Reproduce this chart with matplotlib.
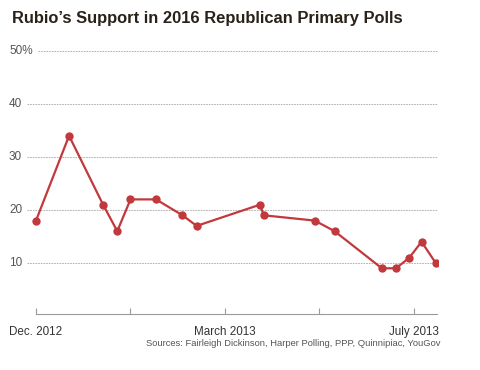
import matplotlib
matplotlib.use("Agg")
import matplotlib.pyplot as plt
from matplotlib.transforms import blended_transform_factory

# Poll positions on the time axis (tick units: 0 = Dec. 2012, 2 = March 2013, 4 = July 2013)
poll_pos = [0.0, 0.35, 0.71, 0.86, 1.0, 1.27, 1.55, 1.70, 2.37, 2.41,
            2.95, 3.16, 3.66, 3.81, 3.95, 4.08, 4.23]
support = [18, 34, 21, 16, 22, 22, 19, 17, 21, 19, 18, 16, 9, 9, 11, 14, 10]

grid_values = [10, 20, 30, 40, 50]
grid_labels = ["10", "20", "30", "40", "50%"]

tick_pos = [0, 1, 2, 3, 4]
tick_labels = ["Dec. 2012", "", "March 2013", "", "July 2013"]

title = "Rubio\u2019s Support in 2016 Republican Primary Polls"
source = "Sources: Fairleigh Dickinson, Harper Polling, PPP, Quinnipiac, YouGov"

plt.rcParams['font.family'] = ['Liberation Sans', 'DejaVu Sans']

W, H = 480, 370
fig = plt.figure(figsize=(W / 100, H / 100), dpi=100)
ax = fig.add_axes([9 / W, (H - 316) / H, (438 - 9) / W, (316 - 45) / H])
ax.set_xlim(-0.2857, 4.254)
ax.set_ylim(0, 51.13)

red = "#c1393c"
ax.plot(poll_pos, support, color=red, lw=1.6, marker='o', ms=6,
        markeredgewidth=0, zorder=3)

# bottom axis with ticks pointing up
for s in ["top", "right", "left"]:
    ax.spines[s].set_visible(False)
ax.spines["bottom"].set_position(("data", 0.3))
ax.spines["bottom"].set_bounds(0, 4.24)
ax.spines["bottom"].set_color("#9a9a9a")
ax.spines["bottom"].set_linewidth(0.8)
ax.set_yticks([])
ax.set_xticks(tick_pos)
ax.set_xticklabels(tick_labels)
ax.tick_params(axis='x', direction='in', length=4, width=0.8, color="#9a9a9a",
               pad=8, labelsize=8.4, labelcolor="#333333")

# gridlines that start right after their labels
trans = blended_transform_factory(ax.transAxes, ax.transData)
fig.canvas.draw()
renderer = fig.canvas.get_renderer()
inv = ax.transAxes.inverted()
for v, lab in zip(grid_values, grid_labels):
    t = ax.text(0, v, lab, transform=trans, ha='left', va='center',
                fontsize=8.5, color="#555555")
    bb = t.get_window_extent(renderer)
    x0 = inv.transform((bb.x1 + 5, 0))[0]
    ax.plot([x0, 1], [v, v], transform=trans, color="#a5a5a5", lw=0.6,
            dashes=(2, 1.2), zorder=1)

fig.text(12 / W, 1 - 18 / H, title, ha='left', va='center', fontsize=11.9,
         fontweight='bold', color="#2a2118")
fig.text(441 / W, 1 - 344 / H, source, ha='right', va='center', fontsize=6.75,
         color="#555555")

fig.savefig("out.png", dpi=100)
